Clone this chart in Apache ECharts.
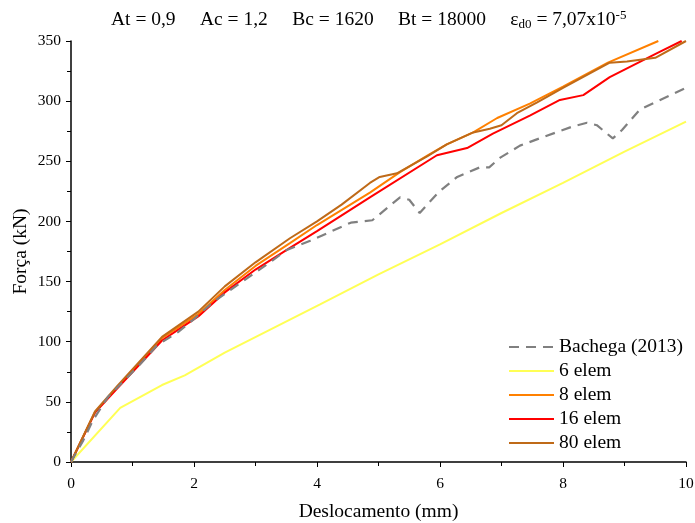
<!DOCTYPE html>
<html>
<head>
<meta charset="utf-8">
<script src="https://cdn.jsdelivr.net/npm/echarts@6/dist/echarts.min.js"></script>
<style>html,body{margin:0;padding:0;background:#fff}#c{width:695px;height:523px}</style>
</head>
<body>
<div id="c"></div>
<script>
var seriesNames = ['Bachega (2013)', '6 elem', '8 elem', '16 elem', '80 elem'];

var bachX = [0,0.2,0.36,0.6,1.12,1.4,1.74,1.98,2.29,2.59,3.18,3.5,3.89,4.2,4.55,4.9,5.35,5.5,5.67,5.97,6.28,6.65,6.8,6.98,7.3,7.67,8.16,8.39,8.55,8.81,8.96,9.25,9.58,10];
var bachY = [0,18,35,54,81,97,108,118,132,143,164,176,184,191,199,201,220,218,207,224,237,245,245,253,263,270,279,282,280,269,276,293,301,311];

var e6X = [0,0.8,1.48,1.85,2.5,4.05,5.0,6,7,8,9,10];
var e6Y = [0,45,64,72,91,131,156,181,207,232,258,283];

var e8X = [0,0.39,0.75,1.48,2.07,2.5,3.0,3.56,4.0,4.86,5.35,5.8,6.11,6.54,6.93,7.46,8.0,8.73,9.55];
var e8Y = [0,41.5,62,103,123,143,163,182,197,224,241,255,264,274,286,298,312,332,350];

var e16X = [0,0.39,0.75,1.48,2.07,2.5,3.0,3.56,4.0,4.86,5.95,6.44,6.86,7.46,7.95,8.33,8.76,9.53,9.93];
var e16Y = [0,41,61,101,121,141,160,178,192,220,255,261,273,288,301,305,320,340,350];

var e80X = [0,0.39,0.75,1.48,2.07,2.5,3.0,3.56,4.0,4.4,4.86,5.02,5.3,5.79,6.11,6.54,6.81,7.0,7.25,7.58,8.0,8.76,9.04,9.5,10];
var e80Y = [0,42,63,104,125,146,166,186,200,214,232,237,240,254,264,274,277,280,290,299,311,332,333,336,350];

var xTicks = [0,2,4,6,8,10];
var yTicks = [0,50,100,150,200,250,300,350];

function pairs(xs, ys){ return xs.map(function(x,i){ return [x, ys[i]]; }); }

var colors = ['#808080', '#ffff55', '#ff8000', '#ff0000', '#bf6a18'];
var dataSets = [pairs(bachX,bachY), pairs(e6X,e6Y), pairs(e8X,e8Y), pairs(e16X,e16Y), pairs(e80X,e80Y)];

var FONT = '"Liberation Serif", "DejaVu Serif", serif';

var chart = echarts.init(document.getElementById('c'), null, {renderer:'canvas'});
chart.setOption({
  animation: false,
  backgroundColor: '#fff',
  title: {
    text: '{a|At = 0,9     Ac = 1,2     Bc = 1620     Bt = 18000     ε}{sub|d0}{a| = 7,07x10}{sup|-5}',
    left: 106, top: 4,
    textStyle: {
      fontFamily: FONT, fontWeight: 'normal', color: '#000',
      rich: {
        a: {fontFamily: FONT, fontSize: 19.5, color: '#000'},
        sub: {fontFamily: FONT, fontSize: 13, color: '#000', padding: [9,0,0,0]},
        sup: {fontFamily: FONT, fontSize: 13, color: '#000', padding: [0,0,9,0]}
      }
    }
  },
  grid: {left: 71, right: 9, top: 41, bottom: 61, containLabel: false, outerBoundsMode: 'none'},
  legend: {
    orient: 'vertical', left: 503, top: 332,
    itemWidth: 45, itemHeight: 14, itemGap: 4,
    textStyle: {fontFamily: FONT, fontSize: 19.5, color: '#000'},
    itemStyle: {opacity: 0, borderWidth: 0},
    data: seriesNames
  },
  xAxis: {
    type: 'value', min: 0, max: 10, interval: 2,
    name: 'Deslocamento (mm)', nameLocation: 'middle', nameGap: 40,
    nameTextStyle: {fontFamily: FONT, fontSize: 19.5, color: '#000'},
    axisLine: {show: true, onZero: false, lineStyle: {color: '#000', width: 1.5}},
    axisTick: {show: true, length: 5, lineStyle: {color: '#000'}},
    minorTick: {show: true, splitNumber: 2, length: 4, lineStyle: {color: '#000'}},
    splitLine: {show: false},
    axisLabel: {fontFamily: FONT, fontSize: 15.5, color: '#000', margin: 14,
      formatter: function(v){ return xTicks.indexOf(v) >= 0 ? String(v) : ''; }}
  },
  yAxis: {
    type: 'value', min: 0, max: 350, interval: 50,
    name: 'Força (kN)', nameLocation: 'middle', nameGap: 40, nameRotate: 90,
    nameMoveOverlap: false,
    nameTextStyle: {fontFamily: FONT, fontSize: 19.5, color: '#000'},
    axisLine: {show: true, onZero: false, lineStyle: {color: '#000', width: 1.5}},
    axisTick: {show: true, length: 5, lineStyle: {color: '#000'}},
    minorTick: {show: true, splitNumber: 2, length: 4, lineStyle: {color: '#000'}},
    splitLine: {show: false},
    axisLabel: {fontFamily: FONT, fontSize: 15.5, color: '#000', margin: 10,
      formatter: function(v){ return yTicks.indexOf(v) >= 0 ? String(v) : ''; }}
  },
  series: seriesNames.map(function(n, i){
    return {
      name: n, type: 'line', data: dataSets[i],
      symbol: 'none', showSymbol: false, clip: true,
      z: i === 0 ? 10 : 2 + i,
      lineStyle: {color: colors[i], width: i === 0 ? 2.2 : 2, type: i === 0 ? [10, 7] : 'solid'},
      itemStyle: {color: colors[i]}
    };
  })
});
</script>
</body>
</html>
